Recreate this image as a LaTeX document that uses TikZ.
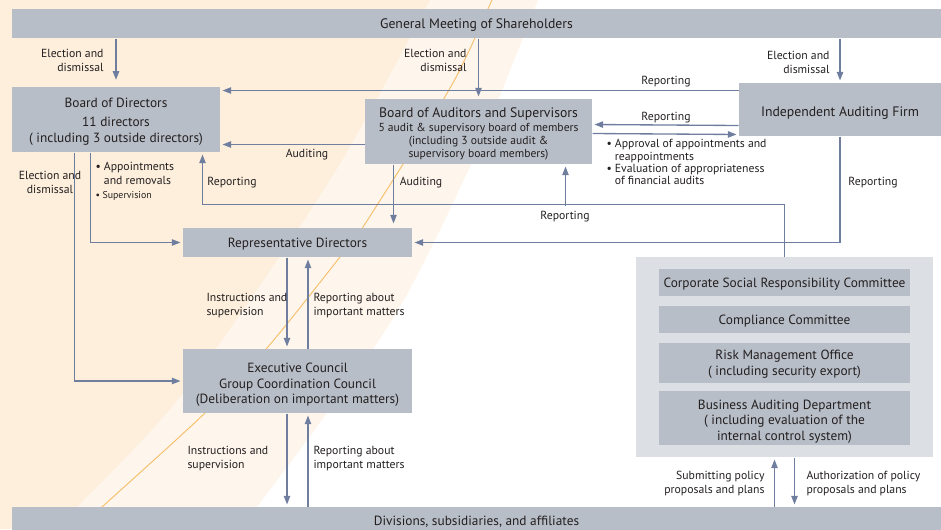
\documentclass[tikz,border=0pt]{standalone}
\usepackage{fontspec}
\setmainfont{PT Sans}
\usetikzlibrary{arrows.meta,calc}

\definecolor{boxgray}{HTML}{B8BEC7}
\definecolor{panelgray}{HTML}{DCDFE3}
\definecolor{arrowblue}{HTML}{6F7E9E}
\definecolor{inkdark}{HTML}{231F20}
\definecolor{beigeA}{HTML}{FDEFDC}
\definecolor{beigeB}{HTML}{FEF6EC}
\definecolor{orangeline}{HTML}{F7BE6A}

\newcommand{\lowstrut}[1]{\rule{0pt}{#1}}

\tikzset{every picture/.style={line width=0.75pt}}
\tikzset{
  box/.style={fill=boxgray, inner sep=0pt, align=center, text=inkdark, font=\fontsize{10}{11.6}\selectfont,
    execute at begin node={\rule{0pt}{#1}}},
  box/.default=10pt,
  arr/.style={draw=arrowblue, line width=1pt, -{Triangle[width=4.8pt,length=6.5pt]}, shorten >=1.5pt},
  lbl/.style={inner sep=0pt, text=inkdark, font=\fontsize{8.8}{10.5}\selectfont, yshift=-1.1pt},
}

\begin{document}
\begin{tikzpicture}[x=0.75pt,y=0.75pt,yscale=-1,xscale=1]
\useasboundingbox (0,0) rectangle (941,529);
\clip (0,0) rectangle (941,529);

%Background
\fill[beigeB] (0,0) -- plot[smooth] coordinates {(538,0) (473,160) (400,307) (327,413) (257,507) (240,529)} -- (0,529) -- cycle;
\fill[beigeA] (0,0) -- plot[smooth] coordinates {(430,0) (330,180) (183,393) (77,507) (58,529)} -- (0,529) -- cycle;
\draw[orangeline, line width=0.7pt] plot[smooth] coordinates {(492,0) (467,55) (443,100) (363,227) (340,257) (267,348) (205,413) (102,507) (78,529)};

%Boxes
\node[box, minimum width=929*0.75pt, minimum height=29*0.75pt, font=\fontsize{10.3}{11.6}\selectfont] (gm) at (476.5,23.5) {General Meeting of Shareholders};
\node[box=0pt, minimum width=208*0.75pt, minimum height=65*0.75pt] (bod) at (116,119.5) {\lowstrut{10.5pt}Board of Directors\\[2.5pt]11 directors\\( including 3 outside directors)};
\node[box=0pt, minimum width=227*0.75pt, minimum height=65*0.75pt] (bas) at (478.5,131.5) {{\fontsize{10.3}{11.6}\selectfont\lowstrut{10.8pt}Board of Auditors and Supervisors}\\[-1pt]{\fontsize{8.7}{9.5}\selectfont 5 audit \& supervisory board of members}\\[-1.9pt]{\fontsize{8.7}{9.5}\selectfont (including 3 outside audit \&}\\[-1.9pt]{\fontsize{8.7}{9.5}\selectfont supervisory board members)}};
\node[box=13pt, minimum width=202*0.75pt, minimum height=53*0.75pt, font=\fontsize{10.3}{11.6}\selectfont] (iaf) at (840,109.5) {Independent Auditing Firm};
\node[box, minimum width=229*0.75pt, minimum height=29*0.75pt] (rep) at (297.5,242.5) {Representative Directors};
\node[box=0pt, minimum width=229*0.75pt, minimum height=64*0.75pt] (exe) at (297.5,381) {\lowstrut{12.7pt}Executive Council\\Group Coordination Council\\(Deliberation on important matters)};
\node[box=0pt, minimum width=929*0.75pt, minimum height=30*0.75pt] (div) at (476.5,522) {Divisions, subsidiaries, and affiliates};

%Committee panel
\node[fill=panelgray, inner sep=0pt, minimum width=297*0.75pt, minimum height=200*0.75pt] (panel) at (784.5,357) {};
\node[box, minimum width=251*0.75pt, minimum height=27*0.75pt] (csr) at (784.5,282.5) {Corporate Social Responsibility Committee};
\node[box, minimum width=251*0.75pt, minimum height=27*0.75pt] (cmp) at (784.5,319.5) {Compliance Committee};
\node[box=0pt, minimum width=251*0.75pt, minimum height=40*0.75pt] (rmo) at (784.5,363) {\lowstrut{9pt}Risk Management Office\\( including security export)};
\node[box=0pt, minimum width=251*0.75pt, minimum height=54*0.75pt] (bad) at (784.5,418) {\lowstrut{12pt}Business Auditing Department\\( including evaluation of the\\internal control system)};

%Connectors
\draw[arr, shorten >=5pt] (bod.north |- gm.south) -- (bod.north);
\draw[arr] (bas.north |- gm.south) -- (bas.north);
\draw[arr] (iaf.north |- gm.south) -- (iaf.north);
\draw[arr] ($(iaf.north west)+(0,8)$) -- ($(bod.north east)+(0,4)$);
\draw[arr] ($(iaf.south west)+(0,-11)$) -- ($(bas.north east)+(0,26)$);
\draw[arr] ($(bas.north east)+(0,35)$) -- ($(iaf.south west)+(0,-2)$);
\draw[arr] ($(bas.north west)+(0,46)$) -- ($(bod.north east)+(0,58)$);
\draw[arr, shorten >=3pt] ($(bas.south west)+(29,0)$) -- ($(rep.north west)+(211,0)$);
\draw[arr] ($(bod.south west)+(79,0)$) |- (rep.west);
\draw[arr] ($(bod.south west)+(63,0)$) |- (exe.west);
\draw[arr] (iaf.south) |- (rep.east);
\draw[arr] (panel.north) -- ++(0,-52) -| ($(bod.south east)+(-18,0)$);
\draw[arr] ($(bas.south east)+(-27,41)$) -- ($(bas.south east)+(-27,0)$);
\draw[arr] ($(rep.south)+(-10.5,0)$) -- ($(exe.north)+(-10.5,0)$);
\draw[arr] ($(exe.north)+(10.5,0)$) -- ($(rep.south)+(10.5,0)$);
\coordinate (ed) at (exe.south |- div.north);
\draw[arr] ($(exe.south)+(-10.5,0)$) -- ($(ed)+(-10.5,0)$);
\draw[arr] ($(ed)+(10.5,0)$) -- ($(exe.south)+(10.5,0)$);
\coordinate (pd) at (panel.south |- div.north);
\draw[arr] ($(pd)+(-10,0)$) -- ($(panel.south)+(-10,0)$);
\draw[arr] ($(panel.south)+(10,0)$) -- ($(pd)+(10,0)$);

%Labels
\node[lbl, align=right, anchor=east] (lgmbod) at (104,59) {Election and\\dismissal};
\node[lbl, align=right, anchor=east] (lgmbas) at (467,59) {Election and\\dismissal};
\node[lbl, align=right, anchor=east] (lgmiaf) at (830,61) {Election and\\dismissal};
\node[lbl] (lrep1) at (666,80) {Reporting};
\node[lbl] (lrep2) at (666,116) {Reporting};
\node[lbl] (laud1) at (307,153) {Auditing};
\node[lbl] (laud2) at (421,181) {Auditing};
\node[lbl] (lrep3) at (232,181) {Reporting};
\node[lbl] (lrep4) at (565,215) {Reporting};
\node[lbl] (lrep5) at (873,181) {Reporting};
\node[lbl, align=center] (lbodexe) at (50,181) {Election and\\dismissal};
\node[lbl, align=left, anchor=north west] (lbodrep) at (95,160) {\textbullet\ Appointments\\\phantom{\textbullet\ }and removals\\{\fontsize{7.4}{8}\selectfont\textbullet\ Supervision}};
\node[lbl, align=left, anchor=north west, font=\fontsize{8.8}{9.2}\selectfont] (lbasiaf) at (606,137.5) {\textbullet\ Approval of appointments and\\\phantom{\textbullet\ }reappointments\\\textbullet\ Evaluation of appropriateness\\\phantom{\textbullet\ }of financial audits};
\node[lbl, align=left, anchor=west] (lins1) at (206,304) {Instructions and\\supervision};
\node[lbl, align=left, anchor=west] (lrab1) at (313,304) {Reporting about\\important matters};
\node[lbl, align=left, anchor=west] (lins2) at (187,457) {Instructions and\\supervision};
\node[lbl, align=left, anchor=west] (lrab2) at (313,457) {Reporting about\\important matters};
\node[lbl, align=right, anchor=east] (lsub) at (765,482) {Submitting policy\\proposals and plans};
\node[lbl, align=left, anchor=west] (lauth) at (806,482) {Authorization of policy\\proposals and plans};

\end{tikzpicture}
\end{document}
